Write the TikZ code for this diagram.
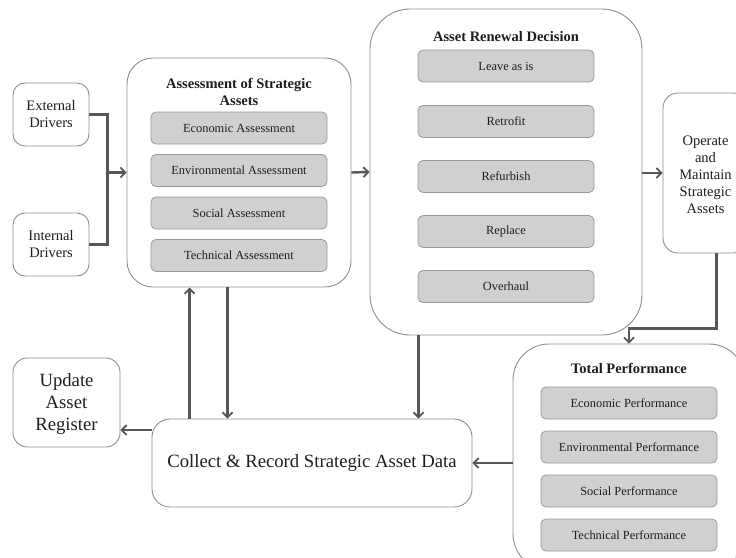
\documentclass[tikz,border=0pt]{standalone}
\usepackage{fontspec}
\setmainfont{Liberation Serif}
\usetikzlibrary{arrows.meta,calc}
\definecolor{conn}{HTML}{585858}
\definecolor{frame}{HTML}{8E8E8E}
\definecolor{itemfill}{HTML}{D0D0D0}
\definecolor{itemline}{HTML}{9A9A9A}
\definecolor{ink}{HTML}{1E1E1E}
\begin{document}
\begin{tikzpicture}[x=1pt,y=-1pt,
  outerbox/.style={draw=frame, line width=0.9pt, fill=white, inner sep=0pt},
  itembox/.style={draw=itemline, line width=0.8pt, fill=itemfill, rounded corners=5pt,
    minimum width=176pt, minimum height=32pt, inner sep=0pt, text=ink,
    font=\fontsize{12.4}{14}\selectfont},
  heading/.style={inner sep=0pt, text=ink, align=center,
    font=\fontsize{14.5}{17}\selectfont\bfseries},
  label/.style={inner sep=0pt, text=ink, align=center},
  midtext/.style={label, font=\fontsize{14.5}{17}\selectfont},
  bigtext/.style={label, font=\fontsize{18.7}{22}\selectfont},
  link/.style={draw=conn, line width=2.4pt},
  arrowlink/.style={link, -{Straight Barb[length=5pt,width=10pt,line width=1.8pt]}}
]
\useasboundingbox (0,0) rectangle (736,557);
\clip (0,0) rectangle (736,557);

% drivers
\node[outerbox, rounded corners=12pt, minimum width=76pt, minimum height=63pt] (ext) at (51,114.5) {};
\node[midtext] (extt) at (ext.center) {External\\Drivers};
\node[outerbox, rounded corners=12pt, minimum width=76pt, minimum height=63pt] (int) at (51,244.5) {};
\node[midtext] (intt) at (int.center) {Internal\\Drivers};

% assessment block
\node[outerbox, rounded corners=26pt, minimum width=224pt, minimum height=229pt] (assess) at (239,172.5) {};
\node[heading] (assesst) at (239,91.5) {Assessment of Strategic\\Assets};
\node[itembox] (a1) at (239,128) {Economic Assessment};
\node[itembox] (a2) at (239,170.5) {Environmental Assessment};
\node[itembox] (a3) at (239,213) {Social Assessment};
\node[itembox] (a4) at (239,255.5) {Technical Assessment};

% renewal decision block
\node[outerbox, rounded corners=40pt, minimum width=272pt, minimum height=326pt] (renew) at (506,172) {};
\node[heading] (renewt) at (506,37) {Asset Renewal Decision};
\node[itembox] (r1) at (506,66) {Leave as is};
\node[itembox] (r2) at (506,121.5) {Retrofit};
\node[itembox] (r3) at (506,176.5) {Refurbish};
\node[itembox] (r4) at (506,231.5) {Replace};
\node[itembox] (r5) at (506,286.5) {Overhaul};

% operate
\node[outerbox, rounded corners=15pt, minimum width=85pt, minimum height=160pt] (oper) at (705.5,173) {};
\node[midtext] (opert) at (705.5,175) {Operate\\and\\Maintain\\Strategic\\Assets};

% total performance block
\node[outerbox, rounded corners=36pt, minimum width=232pt, minimum height=226pt] (tot) at (629,457) {};
\node[heading] (tott) at (629,368) {Total Performance};
\node[itembox] (p1) at (629,403) {Economic Performance};
\node[itembox] (p2) at (629,447) {Environmental Performance};
\node[itembox] (p3) at (629,491) {Social Performance};
\node[itembox] (p4) at (629,535) {Technical Performance};

% data collection and register
\node[outerbox, rounded corners=18pt, minimum width=320pt, minimum height=88pt] (coll) at (312,463) {};
\node[bigtext] (collt) at (coll.center) {Collect \& Record Strategic Asset Data};
\node[outerbox, rounded corners=14pt, minimum width=107pt, minimum height=89pt] (upd) at (66.5,402.5) {};
\node[bigtext] (updt) at (66.5,404) {Update\\Asset\\Register};

% connectors
\coordinate (join) at ($(ext.east)+(18,0)$);
\draw[link] (ext.east) -- (join) -- (join |- int.east) -- (int.east);
\draw[arrowlink] (join |- assess.west) -- (assess.west);
\draw[arrowlink] (assess.east) -- (renew.west);
\draw[arrowlink] (renew.east |- oper.west) -- (oper.west);
\coordinate (odrop) at ($(oper.south west)+(54,0)$);
\draw[arrowlink] (odrop) |- ($(tot.north)+(0,-15)$) -- (tot.north);
\draw[arrowlink] (tot.west |- coll.east) -- (coll.east);
\coordinate (regout) at ($(coll.west)+(0,-33)$);
\draw[arrowlink] (regout) -- (regout -| upd.east);
\coordinate (upx) at ($(assess.south west)+(63,0)$);
\draw[arrowlink] (upx |- coll.north) -- (upx);
\coordinate (downx) at ($(assess.south west)+(101,0)$);
\draw[arrowlink] (downx) -- (downx |- coll.north);
\coordinate (rdown) at ($(renew.south west)+(49,0)$);
\draw[arrowlink] (rdown) -- (rdown |- coll.north);
\end{tikzpicture}
\end{document}
